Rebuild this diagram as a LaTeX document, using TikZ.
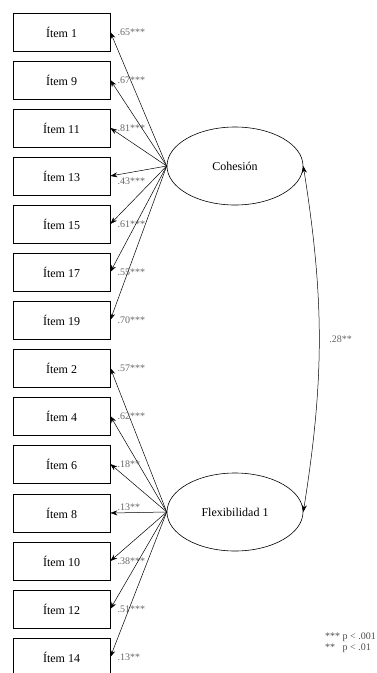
\documentclass[tikz,border=0pt]{standalone}
\usepackage{fontspec}
\setmainfont{Liberation Serif}
\usetikzlibrary{shapes.geometric,arrows.meta}
\begin{document}
\begin{tikzpicture}[x=1pt,y=-1pt,>={Stealth[length=7pt,width=5pt]},
  item/.style={rectangle,draw,line width=0.7pt,minimum width=97pt,minimum height=38pt,inner sep=0pt,font=\fontsize{12}{14}\selectfont},
  factor/.style={ellipse,draw,line width=0.6pt,minimum width=136pt,minimum height=78pt,inner sep=0pt,font=\fontsize{12}{14}\selectfont},
  coef/.style={anchor=west,xshift=7pt,inner sep=0pt,text=black!60,font=\fontsize{10}{12}\selectfont}]
\useasboundingbox (0,0) rectangle (377,673);

\node (i1) [item] at (61.5,32) {Ítem 1};
\node (i9) [item] at (61.5,80) {Ítem 9};
\node (i11) [item] at (61.5,128) {Ítem 11};
\node (i13) [item] at (61.5,176) {Ítem 13};
\node (i15) [item] at (61.5,224) {Ítem 15};
\node (i17) [item] at (61.5,272) {Ítem 17};
\node (i19) [item] at (61.5,320) {Ítem 19};
\node (i2) [item] at (61.5,368) {Ítem 2};
\node (i4) [item] at (61.5,416) {Ítem 4};
\node (i6) [item] at (61.5,464) {Ítem 6};
\node (i8) [item] at (61.5,513) {Ítem 8};
\node (i10) [item] at (61.5,561) {Ítem 10};
\node (i12) [item] at (61.5,609) {Ítem 12};
\node (i14) [item] at (61.5,657) {Ítem 14};

\node (c) [factor] at (235,166) {Cohesión};
\node (f) [factor] at (235,512) {Flexibilidad 1};

\draw [->,line width=0.5pt] (c.west)--(i1.east) node[coef]{.65***};
\draw [->,line width=0.5pt] (c.west)--(i9.east) node[coef]{.67***};
\draw [->,line width=0.5pt] (c.west)--(i11.east) node[coef]{.81***};
\draw [->,line width=0.5pt] (c.west)--(i13.east) node[coef,yshift=-5pt]{.43***};
\draw [->,line width=0.5pt] (c.west)--(i15.east) node[coef]{.61***};
\draw [->,line width=0.5pt] (c.west)--(i17.east) node[coef]{.55***};
\draw [->,line width=0.5pt] (c.west)--(i19.east) node[coef]{.70***};

\draw [->,line width=0.5pt] (f.west)--(i2.east) node[coef]{.57***};
\draw [->,line width=0.5pt] (f.west)--(i4.east) node[coef]{.62***};
\draw [->,line width=0.5pt] (f.west)--(i6.east) node[coef]{.18**};
\draw [->,line width=0.5pt] (f.west)--(i8.east) node[coef,yshift=6pt]{.13**};
\draw [->,line width=0.5pt] (f.west)--(i10.east) node[coef]{.38***};
\draw [->,line width=0.5pt] (f.west)--(i12.east) node[coef]{.51***};
\draw [->,line width=0.5pt] (f.west)--(i14.east) node[coef]{.13**};

\draw [<->,line width=0.5pt] (c.east) to[out=-81,in=81] node[coef,xshift=3pt]{.28**} (f.east);

\node (p) [anchor=north west,align=left,inner sep=0pt,text=black!70,font=\fontsize{10}{11}\selectfont] at (325,633) {*** p < .001\\**\hspace{5pt} p < .01};
\end{tikzpicture}
\end{document}
